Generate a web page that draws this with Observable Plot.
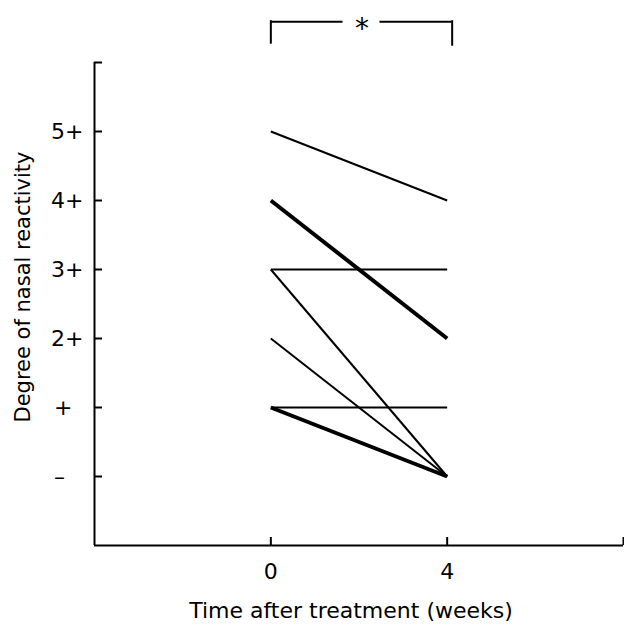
<!DOCTYPE html>
<html><head><meta charset="utf-8">
<script src="https://cdn.jsdelivr.net/npm/d3@7"></script>
<script src="https://cdn.jsdelivr.net/npm/@observablehq/plot@0.6"></script>
<style>body{margin:0;background:#fff}</style>
</head><body><div id="chart"></div>
<script>
// Data
const subjects = ["a", "b", "c", "d", "e", "f", "g"];
const week0 = [5, 4, 3, 3, 2, 1, 1];
const week4 = [4, 2, 3, 0, 0, 1, 0];
const patients = [1, 2, 1, 1, 1, 1, 2]; // thick line = two patients
const timePoints = [0, 4];
const yTickValues = [0, 1, 2, 3, 4, 5, 6];
const yTickLabels = ["–", "+", "2+", "3+", "4+", "5+", ""];
const xTickValues = [0, 4, 8];
const xTickLabels = ["0", "4", ""];
const xTitle = "Time after treatment (weeks)";
const yTitle = "Degree of nasal reactivity";
const significance = "*";

const rows = subjects.map((s, i) => ({s, y1: week0[i], y2: week4[i], n: patients[i]}));
const FONT = "'DejaVu Sans', sans-serif";
const INK = "#000";
const bracketTop = 6.62, bracketBottom = 6.28;
const mid = (timePoints[0] + timePoints[1]) / 2;
// single-glyph labels sit under the digit column in the original
const padLabel = s => s === "+" ? s + "\u2002" : s === "–" ? s + "\u2007\u2009" : s;

const chart = Plot.plot({
  width: 624, height: 631,
  marginLeft: 94, marginRight: 1, marginTop: 62, marginBottom: 86,
  x: {domain: [-4, 8]},
  y: {domain: [-1, 6]},
  style: {fontFamily: FONT, fontSize: "20px", color: INK, background: "#fff"},
  marks: [
    Plot.ruleX([-4], {stroke: INK, strokeWidth: 2}),
    Plot.ruleY([-1], {stroke: INK, strokeWidth: 2}),
    Plot.axisY(yTickValues, {
      tickFormat: d => padLabel(yTickLabels[yTickValues.indexOf(d)]),
      tickSize: -8, tickPadding: 19, strokeWidth: 2, stroke: INK,
      fontSize: 22, label: null, fill: INK
    }),
    Plot.axisX(xTickValues, {
      tickFormat: d => xTickLabels[xTickValues.indexOf(d)],
      tickSize: -8, tickPadding: 26, strokeWidth: 2, stroke: INK,
      fontSize: 22, label: null, fill: INK
    }),
    Plot.link(rows, {
      x1: () => timePoints[0], x2: () => timePoints[1],
      y1: "y1", y2: "y2",
      strokeWidth: d => d.n * 2, stroke: INK, strokeLinecap: "butt"
    }),
    // significance bracket
    Plot.ruleY([bracketTop], {x1: timePoints[0], x2: mid, insetRight: 16, dy: 2, stroke: INK, strokeWidth: 2}),
    Plot.ruleY([bracketTop], {x1: mid, x2: timePoints[1], insetLeft: 16, dx: 5, dy: 2, stroke: INK, strokeWidth: 2}),
    Plot.ruleX([timePoints[0]], {y1: bracketBottom, y2: bracketTop, dy: 1, stroke: INK, strokeWidth: 2}),
    Plot.ruleX([timePoints[1]], {y1: bracketBottom - 0.03, y2: bracketTop, dx: 5, dy: 1, stroke: INK, strokeWidth: 2}),
    Plot.text([significance], {x: mid, y: bracketTop, dx: 3, dy: 9, fontSize: 28, fill: INK}),
    // axis titles
    Plot.text([xTitle], {frameAnchor: "bottom", textAnchor: "middle", dx: -8, dy: 72, fontSize: 22, fill: INK}),
    Plot.text([yTitle], {frameAnchor: "left", textAnchor: "middle", rotate: -90, dx: -71, dy: -17, fontSize: 21, fill: INK})
  ]
});
document.getElementById("chart").append(chart);
</script>
</body></html>
